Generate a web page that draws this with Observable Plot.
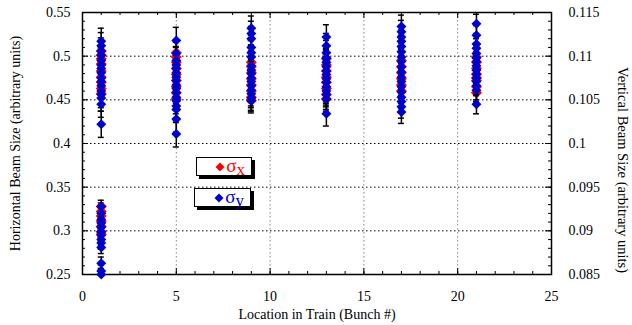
<!DOCTYPE html>
<html><head><meta charset="utf-8">
<script src="https://cdn.jsdelivr.net/npm/d3@7"></script>
<script src="https://cdn.jsdelivr.net/npm/@observablehq/plot@0.6"></script>
<style>
body{margin:0;background:#fff;}
#chart{position:relative;width:632px;height:325px;font-family:"Liberation Serif",serif;}
#chart svg.plot{position:absolute;left:0;top:0;}
.leg{position:absolute;background:#fff;border:1px solid #000;box-shadow:3px 3px 0 #000;height:19px;display:flex;align-items:center;justify-content:flex-end;padding-right:6px;box-sizing:border-box;font-size:19px;line-height:1;}
.leg sub{font-size:17px;vertical-align:-3px;}
.leg svg{margin-right:1px;}
#ylab2{position:absolute;left:614px;top:170px;transform:translateY(-50%);writing-mode:vertical-rl;font-size:14.5px;white-space:nowrap;}
</style></head><body><div id="chart"></div><script>
// ---- data ----
const groupBunch = [1, 1, 5, 9, 13, 17, 21];
const sigmaX = [
  [0.506,0.501,0.497,0.491,0.483,0.476,0.470,0.463,0.457],
  [0.328,0.322,0.317,0.311,0.305,0.299,0.296],
  [0.504,0.499,0.493,0.486,0.479,0.472,0.465,0.458,0.451],
  [0.493,0.488,0.481,0.474,0.467,0.460,0.453,0.449],
  [0.497,0.490,0.483,0.476,0.470,0.463,0.456,0.451],
  [0.495,0.488,0.481,0.474,0.467,0.460],
  [0.499,0.493,0.486,0.479,0.475,0.472,0.465,0.458]
];
const sigmaXErr = [0.012,0.004,0.012,0.012,0.012,0.012,0.010];
const sigmaY = [
  [0.1117,0.1112,0.1106,0.1101,0.1095,0.1090,0.1086,0.1081,0.1075,0.1071,0.1066,0.1060,0.1056,0.1052,0.1045,0.1022],
  [0.0928,0.0920,0.0913,0.0909,0.0904,0.0899,0.0895,0.0890,0.0886,0.0881,0.0863,0.0854,0.0850],
  [0.1118,0.1103,0.1095,0.1090,0.1086,0.1081,0.1076,0.1072,0.1067,0.1063,0.1058,0.1053,0.1049,0.1043,0.1039,0.1028,0.1011],
  [0.1132,0.1126,0.1120,0.1110,0.1104,0.1099,0.1089,0.1084,0.1080,0.1075,0.1071,0.1066,0.1061,0.1057,0.1052,0.1049],
  [0.1122,0.1112,0.1104,0.1098,0.1093,0.1088,0.1083,0.1079,0.1074,0.1070,0.1065,0.1060,0.1056,0.1051,0.1034],
  [0.1134,0.1128,0.1122,0.1117,0.1111,0.1105,0.1099,0.1094,0.1088,0.1082,0.1076,0.1071,0.1065,0.1059,0.1053,0.1048,0.1042,0.1036],
  [0.1137,0.1124,0.1114,0.1109,0.1103,0.1098,0.1094,0.1089,0.1084,0.1080,0.1075,0.1071,0.1066,0.1061,0.1045]
];
const sigmaYErr = [0.0015,0.0007,0.0015,0.0014,0.0014,0.0013,0.0011];
const xTicks = [0,5,10,15,20,25];
const leftTicks = [0.25,0.3,0.35,0.4,0.45,0.5,0.55];
const rightTicks = [0.085,0.09,0.095,0.1,0.105,0.11,0.115];
const xLabel = "Location in Train (Bunch #)";
const leftLabel = "Horizontal Beam Size (arbitrary units)";
const rightLabel = "Vertical Beam Size (arbitrary units)";

// ---- build rows ----
const xRows = [], yRows = [];
groupBunch.forEach((b, i) => {
  sigmaX[i].forEach(v => xRows.push({bunch: b, v, e: sigmaXErr[i]}));
  sigmaY[i].forEach(v => yRows.push({bunch: b, v, e: sigmaYErr[i]}));
});
const xMinor = d3.range(0, 26);
const leftMinor = d3.range(25, 56).map(d => d / 100);
const rightMinor = d3.range(85, 116).map(d => d / 1000);

const W = 632, H = 325, mL = 82, mR = 81, mT = 12, mB = 51;
const fw = W - mL - mR, fh = H - mT - mB;
const base = {width: W, height: H, marginLeft: mL, marginRight: mR, marginTop: mT, marginBottom: mB,
  style: {fontFamily: "Liberation Serif, serif", fontSize: "14px", background: "transparent", color: "#000"}};
const capW = 0.16;
const RED = "#ff0000", BLUE = "#0000cc";
const fmt = d => String(d);

const p1 = Plot.plot({
  ...base,
  x: {domain: [0, 25]},
  y: {domain: [0.25, 0.55]},
  marks: [
    Plot.ruleY(leftTicks.slice(1, -1), {stroke: "#000", strokeWidth: 1, strokeDasharray: "1.5,2.5"}),
    Plot.ruleX(xTicks.slice(1, -1), {stroke: "#888", strokeWidth: 1, strokeDasharray: "1.5,2.5"}),
    Plot.tickX(xMinor, {insetTop: fh - 3, stroke: "#000"}),
    Plot.tickX(xTicks, {insetTop: fh - 6, stroke: "#000"}),
    Plot.tickX(xMinor, {insetBottom: fh - 3, stroke: "#000"}),
    Plot.tickX(xTicks, {insetBottom: fh - 6, stroke: "#000"}),
    Plot.tickY(leftMinor, {insetRight: fw - 3, stroke: "#000"}),
    Plot.tickY(leftTicks, {insetRight: fw - 6, stroke: "#000"}),
    Plot.ruleX(xRows, {x: "bunch", y1: d => d.v - d.e, y2: d => d.v + d.e, stroke: "#000", strokeWidth: 1.5, clip: true}),
    Plot.ruleY(xRows, {y: d => d.v + d.e, x1: d => d.bunch - capW, x2: d => d.bunch + capW, stroke: "#000", strokeWidth: 1.5, clip: true}),
    Plot.ruleY(xRows, {y: d => d.v - d.e, x1: d => d.bunch - capW, x2: d => d.bunch + capW, stroke: "#000", strokeWidth: 1.5, clip: true}),
    Plot.dot(xRows, {x: "bunch", y: "v", symbol: "diamond2", r: 5, fill: RED, stroke: "none"}),
    Plot.frame({stroke: "#000", strokeWidth: 1.5}),
    Plot.axisY(leftTicks, {anchor: "left", tickSize: 0, tickPadding: 12, tickFormat: fmt, label: leftLabel, labelAnchor: "center", labelOffset: 72, labelArrow: false}),
    Plot.axisX(xTicks, {anchor: "bottom", tickSize: 0, tickPadding: 17, tickFormat: fmt, label: xLabel, labelAnchor: "center", labelOffset: 44, labelArrow: false})
  ]
});
p1.classList.add("plot");

const p2 = Plot.plot({
  ...base,
  x: {domain: [0, 25], axis: null},
  y: {domain: [0.085, 0.115]},
  marks: [
    Plot.tickY(rightMinor, {insetLeft: fw - 3, stroke: "#000"}),
    Plot.tickY(rightTicks, {insetLeft: fw - 6, stroke: "#000"}),
    Plot.ruleX(yRows, {x: "bunch", y1: d => d.v - d.e, y2: d => d.v + d.e, stroke: "#000", strokeWidth: 1.5, clip: true}),
    Plot.ruleY(yRows, {y: d => d.v + d.e, x1: d => d.bunch - capW, x2: d => d.bunch + capW, stroke: "#000", strokeWidth: 1.5, clip: true}),
    Plot.ruleY(yRows, {y: d => d.v - d.e, x1: d => d.bunch - capW, x2: d => d.bunch + capW, stroke: "#000", strokeWidth: 1.5, clip: true}),
    Plot.dot(yRows, {x: "bunch", y: "v", symbol: "diamond2", r: 4.5, fill: BLUE, stroke: "none"}),
    Plot.axisY(rightTicks, {anchor: "right", tickSize: 0, tickPadding: 17, tickFormat: fmt, label: null})
  ]
});
p2.classList.add("plot");

const chart = document.getElementById("chart");
chart.appendChild(p1);
chart.appendChild(p2);

const yl2 = document.createElement("div");
yl2.id = "ylab2";
yl2.textContent = rightLabel;
chart.appendChild(yl2);

function legendBox(left, top, width, color, sub) {
  const d = document.createElement("div");
  d.className = "leg";
  d.style.left = left + "px"; d.style.top = top + "px"; d.style.width = width + "px";
  d.style.color = color;
  d.innerHTML = `<svg width="10" height="10" viewBox="-5 -5 10 10"><polygon points="0,-4.5 4.5,0 0,4.5 -4.5,0" fill="${color}"/></svg><span>σ<sub>${sub}</sub></span>`;
  chart.appendChild(d);
}
legendBox(196, 157, 56, RED, "x");
legendBox(194, 188, 57, BLUE, "y");
</script></body></html>
